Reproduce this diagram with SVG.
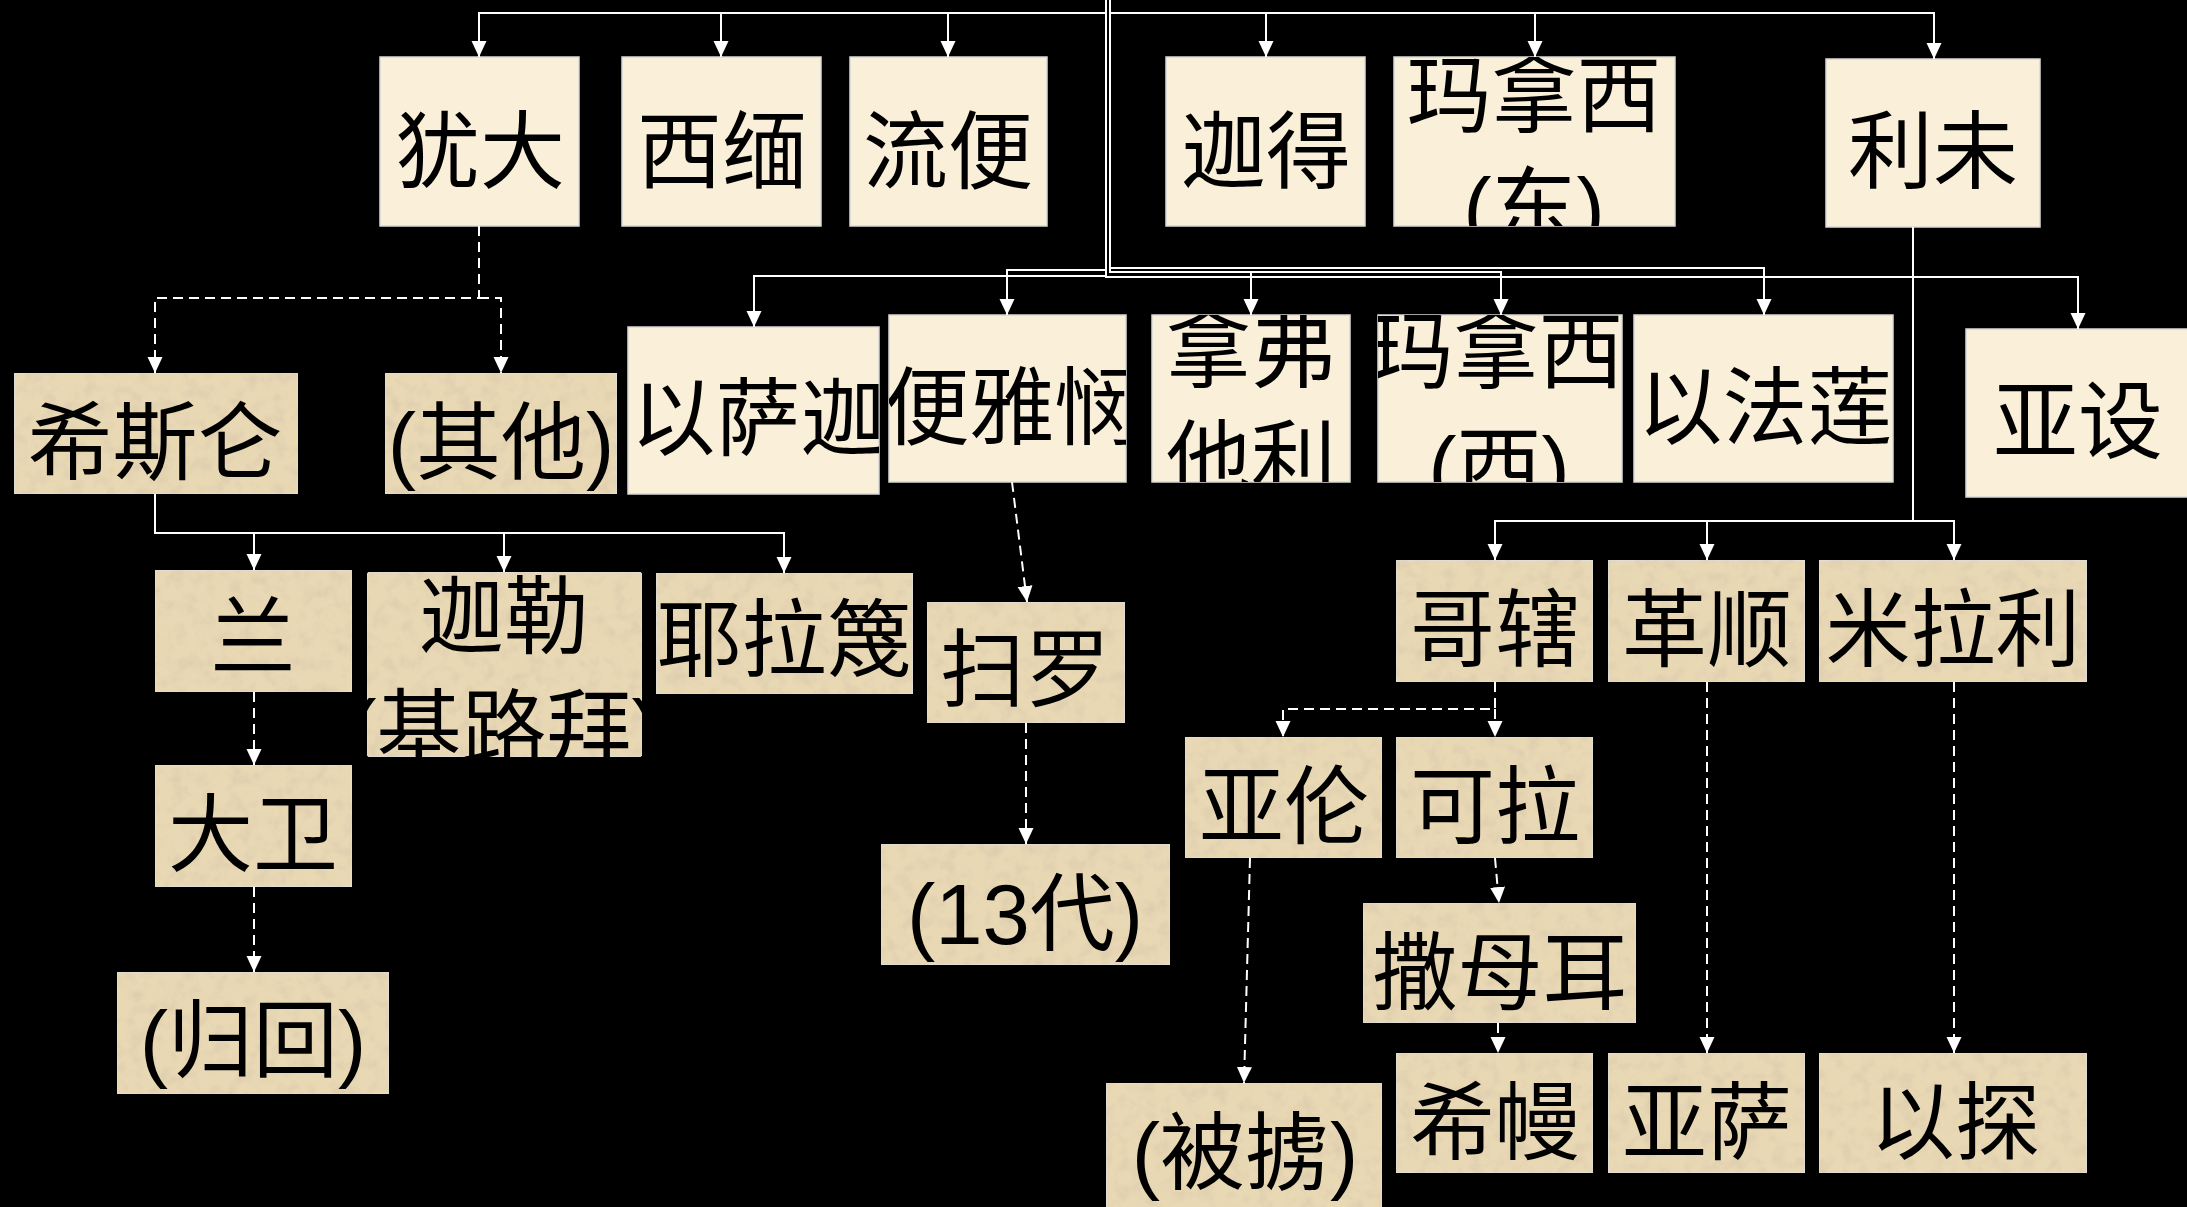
<svg xmlns="http://www.w3.org/2000/svg" width="2187" height="1207" viewBox="0 0 2187 1207">
<defs>
<style>
.cream{fill:#FAEFD9;stroke:#d9d9d9;stroke-width:1.5}
.tan{fill:#E9D8B4;stroke:#e0e0e0;stroke-width:1.5}
text{font-family:"Liberation Sans","Noto Sans CJK SC",sans-serif;font-size:85px;fill:#000;text-anchor:middle}
.ln{fill:none;stroke:#fff;stroke-width:2;marker-end:url(#ah)}
.ds{fill:none;stroke:#fff;stroke-width:2;stroke-dasharray:10 6;marker-end:url(#ah)}
</style>
<marker id="ah" markerUnits="userSpaceOnUse" markerWidth="17" markerHeight="17" viewBox="0 0 17 17" refX="16" refY="8.5" orient="auto">
<path d="M0,1 L16,8.5 L0,16 z" fill="#fff"/>
</marker>
<filter id="tex" x="0" y="0" width="1" height="1">
<feTurbulence type="fractalNoise" baseFrequency="0.07" numOctaves="4" seed="7" result="t"/>
<feColorMatrix in="t" type="matrix" values="0 0 0 0 0.66 0 0 0 0 0.56 0 0 0 0 0.40 0 0 0 1.3 -0.58" result="d"/>
<feComposite in="d" in2="SourceGraphic" operator="atop"/>
</filter>
<clipPath id="c-mnxd"><rect x="1394" y="57" width="281" height="169"/></clipPath>
<clipPath id="c-nfpl"><rect x="1152" y="315" width="198" height="167"/></clipPath>
<clipPath id="c-mnxx"><rect x="1378" y="315" width="244" height="167"/></clipPath>
<clipPath id="c-ysj"><rect x="628" y="327" width="251" height="167"/></clipPath>
<clipPath id="c-byl"><rect x="889" y="315" width="237" height="167"/></clipPath>
<clipPath id="c-jl"><rect x="340" y="572" width="330" height="185"/></clipPath>
</defs>
<rect x="0" y="0" width="2187" height="1207" fill="#000"/>

<g id="n-judah"><rect class="cream" x="380" y="57" width="199" height="169"/><text x="480" y="182">犹大</text></g>
<g id="n-simeon"><rect class="cream" x="622" y="57" width="199" height="169"/><text x="722" y="182">西缅</text></g>
<g id="n-reuben"><rect class="cream" x="850" y="57" width="197" height="169"/><text x="948" y="182">流便</text></g>
<g id="n-gad"><rect class="cream" x="1166" y="57" width="199" height="169"/><text x="1266" y="182">迦得</text></g>
<g id="n-manasseh-e"><rect class="cream" x="1394" y="57" width="281" height="169"/><g clip-path="url(#c-mnxd)"><text x="1534" y="126">玛拿西</text><text x="1534" y="238">(东)</text></g></g>
<g id="n-levi"><rect class="cream" x="1826" y="59" width="214" height="168"/><text x="1933" y="182">利未</text></g>

<g id="n-issachar"><rect class="cream" x="628" y="327" width="251" height="167"/><g clip-path="url(#c-ysj)"><text x="758" y="449">以萨迦</text></g></g>
<g id="n-benjamin"><rect class="cream" x="889" y="315" width="237" height="167"/><g clip-path="url(#c-byl)"><text x="1012" y="438">便雅悯</text></g></g>
<g id="n-naphtali"><rect class="cream" x="1152" y="315" width="198" height="167"/><g clip-path="url(#c-nfpl)"><text x="1251" y="381">拿弗</text><text x="1251" y="491">他利</text></g></g>
<g id="n-manasseh-w"><rect class="cream" x="1378" y="315" width="244" height="167"/><g clip-path="url(#c-mnxx)"><text x="1496" y="382">玛拿西</text><text x="1499" y="497">(西)</text></g></g>
<g id="n-ephraim"><rect class="cream" x="1634" y="315" width="259" height="167"/><text x="1765" y="438">以法莲</text></g>
<g id="n-asher"><rect class="cream" x="1966" y="329" width="225" height="168"/><text x="2078" y="452">亚设</text></g>

<g id="n-hezron"><rect class="tan" filter="url(#tex)" x="14" y="373" width="284" height="121"/><text x="155" y="473">希斯仑</text></g>
<g id="n-others1"><rect class="tan" filter="url(#tex)" x="385" y="373" width="232" height="121"/><text x="501" y="473">(其他)</text></g>
<g id="n-ram"><rect class="tan" filter="url(#tex)" x="155" y="570" width="197" height="122"/><text x="253" y="668">兰</text></g>
<g id="n-caleb"><rect class="tan" filter="url(#tex)" x="367" y="572" width="275" height="185" rx="4"/><g clip-path="url(#c-jl)"><text x="504" y="647">迦勒</text><text x="504" y="760">(基路拜)</text></g></g>
<g id="n-jerahmeel"><rect class="tan" filter="url(#tex)" x="656" y="573" width="257" height="121"/><text x="784" y="670">耶拉篾</text></g>
<g id="n-saul"><rect class="tan" filter="url(#tex)" x="927" y="602" width="198" height="121"/><text x="1025" y="700">扫罗</text></g>
<g id="n-david"><rect class="tan" filter="url(#tex)" x="155" y="765" width="197" height="122"/><text x="253" y="865">大卫</text></g>
<g id="n-return"><rect class="tan" filter="url(#tex)" x="117" y="972" width="272" height="122"/><text x="253" y="1071">(归回)</text></g>
<g id="n-13gen"><rect class="tan" filter="url(#tex)" x="881" y="844" width="289" height="121"/><text x="1025" y="944">(13代)</text></g>
<g id="n-kohath"><rect class="tan" filter="url(#tex)" x="1396" y="560" width="197" height="122"/><text x="1495" y="660">哥辖</text></g>
<g id="n-gershon"><rect class="tan" filter="url(#tex)" x="1608" y="560" width="197" height="122"/><text x="1707" y="660">革顺</text></g>
<g id="n-merari"><rect class="tan" filter="url(#tex)" x="1819" y="560" width="268" height="122"/><text x="1953" y="660">米拉利</text></g>
<g id="n-aaron"><rect class="tan" filter="url(#tex)" x="1185" y="737" width="197" height="121"/><text x="1284" y="837">亚伦</text></g>
<g id="n-korah"><rect class="tan" filter="url(#tex)" x="1396" y="737" width="197" height="121"/><text x="1495" y="837">可拉</text></g>
<g id="n-samuel"><rect class="tan" filter="url(#tex)" x="1363" y="903" width="273" height="120"/><text x="1500" y="1003">撒母耳</text></g>
<g id="n-heman"><rect class="tan" filter="url(#tex)" x="1396" y="1053" width="197" height="120"/><text x="1495" y="1153">希幔</text></g>
<g id="n-asaph"><rect class="tan" filter="url(#tex)" x="1608" y="1053" width="197" height="120"/><text x="1707" y="1153">亚萨</text></g>
<g id="n-ethan"><rect class="tan" filter="url(#tex)" x="1819" y="1053" width="268" height="120"/><text x="1955" y="1153">以探</text></g>
<g id="n-exile"><rect class="tan" filter="url(#tex)" x="1106" y="1083" width="276" height="126"/><text x="1245" y="1183">(被掳)</text></g>

<g id="connectors">
<path class="ln" d="M1106,0 V13 H479 V57"/>
<path class="ln" d="M1106,13 H721 V57"/>
<path class="ln" d="M1106,13 H948 V57"/>
<path class="ln" d="M1110,0 V13 H1266 V57"/>
<path class="ln" d="M1110,13 H1535 V57"/>
<path class="ln" d="M1110,13 H1934 V59"/>
<path class="ln" d="M1106,13 V276 H754 V327"/>
<path class="ln" d="M1106,270 H1007 V315"/>
<path class="ln" d="M1110,13 V272 H1251 V315"/>
<path class="ln" d="M1251,272 H1501 V315"/>
<path class="ln" d="M1110,268 H1764 V315"/>
<path class="ln" d="M1106,276 V277 H2078 V329"/>
<path class="ln" d="M1913,227 V521 H1495 V560"/>
<path class="ln" d="M1913,521 H1707 V560"/>
<path class="ln" d="M1913,521 H1954 V560"/>
<path class="ds" d="M479,226 V298 H155 V373"/>
<path class="ds" d="M479,298 H501 V373"/>
<path class="ln" d="M155,494 V533 H254 V570"/>
<path class="ln" d="M254,533 H504 V572"/>
<path class="ln" d="M504,533 H784 V573"/>
<path class="ds" d="M254,692 V765"/>
<path class="ds" d="M254,887 V972"/>
<path class="ds" d="M1012,482 L1027,602"/>
<path class="ds" d="M1026,723 V844"/>
<path class="ds" d="M1495,682 V709 H1283 V737"/>
<path class="ds" d="M1495,709 V737"/>
<path class="ds" d="M1495,858 L1499,903"/>
<path class="ds" d="M1498,1023 V1053"/>
<path class="ds" d="M1250,858 L1244,1083"/>
<path class="ds" d="M1707,682 V1053"/>
<path class="ds" d="M1954,682 V1053"/>
</g>
</svg>
